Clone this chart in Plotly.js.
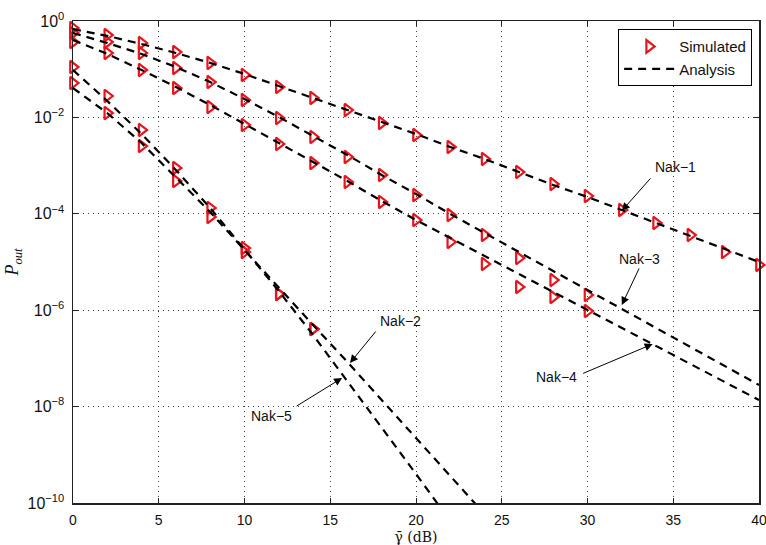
<!DOCTYPE html>
<html>
<head>
<meta charset="utf-8">
<script src="https://cdn.plot.ly/plotly-3.0.1.min.js"></script>
<style>html,body{margin:0;padding:0;background:#fff;}#chart{width:766px;height:545px;}</style>
</head>
<body>
<div id="chart"></div>
<script>
// SNR grid (dB)
const snrDB = [0,2,4,6,8,10,12,14,16,18,20,22,24,26,28,30,32,34,36,38,40];

// Nak-1
const nak1Sim = [0.716,0.512,0.350,0.227,0.135,0.0759,0.0428,0.0253,0.0142,7.66e-3,4.31e-3,2.43e-3,1.37e-3,7.36e-4,4.15e-4,2.34e-4,1.20e-4,6.44e-5,3.63e-5,1.61e-5,8.67e-6];
const nak1Ana = [0.68,0.49,0.333,0.217,0.135,0.0795,0.0447,0.0253,0.0142,8.03e-3,4.53e-3,2.43e-3,1.37e-3,7.36e-4,3.96e-4,2.23e-4,1.20e-4,6.44e-5,3.46e-5,1.86e-5,1.0e-5];
// Nak-3
const nak3Sim = [0.564,0.367,0.217,0.106,0.0542,0.0230,9.72e-3,3.92e-3,1.51e-3,6.38e-4,2.45e-4,9.44e-5,3.63e-5,1.21e-5,4.23e-6,2.07e-6];
const nak3Ana = [0.564,0.350,0.207,0.111,0.0542,0.0241,0.0102,4.11e-3,1.66e-3,6.38e-4,2.58e-4,9.91e-5,4.0e-5,1.61e-5,6.5e-6,2.62e-6,1.06e-6,4.27e-7,1.72e-7,6.95e-8,2.81e-8];
// Nak-4
const nak4Sim = [0.367,0.217,0.0962,0.0407,0.0164,6.95e-3,2.81e-3,1.13e-3,4.57e-4,1.76e-4,7.43e-5,2.60e-5,9.09e-6,3.03e-6,1.88e-6,9.62e-7];
const nak4Ana = [0.403,0.207,0.0962,0.0428,0.0181,7.29e-3,2.94e-3,1.19e-3,4.79e-4,1.84e-4,7.43e-5,3.15e-5,1.33e-5,5.64e-6,2.39e-6,1.01e-6,4.27e-7,1.81e-7,7.65e-8,3.24e-8,1.37e-8];
// Nak-2
const nak2Sim = [0.0517,0.0123,2.55e-3,4.79e-4,8.59e-5,1.61e-5,2.17e-6,4.07e-7];
const nak2Ana = [0.0407,0.0123,2.94e-3,5.80e-4,1.09e-4,1.77e-5,2.89e-6,4.93e-7,8.41e-8,1.37e-8,2.23e-9,3.63e-10,5.9e-11];
// Nak-5
const nak5Sim = [0.111,0.0278,5.48e-3,8.92e-4,1.32e-4,1.95e-5,2.17e-6,4.07e-7];
const nak5Ana = [0.0962,0.0219,4.53e-3,8.10e-4,1.32e-4,1.86e-5,2.50e-6,3.06e-7,3.40e-8,3.60e-9,4.0e-10,4.2e-11];

const yTickVals = [1,1e-2,1e-4,1e-6,1e-8,1e-10];
const yTickText = ['10<sup>0</sup>','10<sup>\u22122</sup>','10<sup>\u22124</sup>','10<sup>\u22126</sup>','10<sup>\u22128</sup>','10<sup>\u221210</sup>'];
const xTickVals = [0,5,10,15,20,25,30,35,40];

const simSets = [nak1Sim, nak3Sim, nak4Sim, nak2Sim, nak5Sim];
const anaSets = [nak1Ana, nak3Ana, nak4Ana, nak2Ana, nak5Ana];

const traces = [];
simSets.forEach((s, i) => {
  traces.push({
    x: snrDB.slice(0, s.length), y: s, type: 'scatter', mode: 'markers',
    name: 'Simulated', showlegend: i === 0, legendrank: 1, cliponaxis: false,
    marker: {symbol: 'triangle-right-open', size: 11, color: '#e8141b', line: {width: 2.2, color: '#e8141b'}}
  });
});
anaSets.forEach((s, i) => {
  traces.push({
    x: snrDB.slice(0, s.length), y: s, type: 'scatter', mode: 'lines',
    name: 'Analysis', showlegend: i === 0, legendrank: 2,
    line: {color: '#000', width: 2.2, dash: '8px,6px'}
  });
});

const L = Math.log10;
const labelFont = {family: 'Liberation Sans, Arial, sans-serif', size: 14, color: '#111'};
function arrow(x, y, ax, ay) {
  return {x: x, y: L(y), xref: 'x', yref: 'y', text: '', showarrow: true, ax: ax, ay: ay,
          arrowhead: 2, arrowsize: 1.6, arrowwidth: 1, arrowcolor: '#000', standoff: 0, startstandoff: 0};
}
function label(t, x, ly) {
  return {x: x, y: ly, xref: 'x', yref: 'y', text: t, showarrow: false, font: labelFont};
}

const layout = {
  width: 766, height: 545,
  margin: {l: 73, r: 7, t: 21, b: 42},
  paper_bgcolor: '#fff', plot_bgcolor: '#fff',
  font: {family: 'Liberation Sans, Arial, sans-serif', size: 14, color: '#111'},
  xaxis: {
    range: [0, 40], tickvals: xTickVals, ticks: 'inside', ticklen: 5, tickcolor: '#222',
    showline: true, linecolor: '#222', linewidth: 1.5, mirror: 'ticks',
    showgrid: true, gridcolor: '#444', griddash: '1px,4px', gridwidth: 1, zeroline: false,
    tickfont: {size: 14}, ticklabelstandoff: 4, ticklabeloverflow: 'allow',
    title: {text: '\u03b3\u0304 (dB)', font: {family: 'DejaVu Serif, Liberation Serif, serif', size: 14}, standoff: 6}
  },
  yaxis: {
    type: 'log', range: [-10, 0], tickvals: yTickVals, ticktext: yTickText,
    ticks: 'inside', ticklen: 5, tickcolor: '#222',
    showline: true, linecolor: '#222', linewidth: 1.5, mirror: 'ticks',
    showgrid: true, gridcolor: '#444', griddash: '1px,4px', gridwidth: 1, zeroline: false,
    tickfont: {size: 16}, ticklabelstandoff: 4,
    title: {text: '<i>P</i><sub><i>out</i></sub>', font: {family: 'Liberation Serif, DejaVu Serif, serif', size: 18}, standoff: 4}
  },
  legend: {
    x: 0.99, y: 0.983, xanchor: 'right', yanchor: 'top',
    bgcolor: '#fff', bordercolor: '#000', borderwidth: 1,
    font: {size: 15}, tracegroupgap: 0, itemwidth: 50
  },
  annotations: [
    arrow(32.0, 1.15e-4, 30, -34), label('Nak\u22121', 35.16, -3.03),
    arrow(32.0, 1.28e-6, 18, -38), label('Nak\u22123', 33.06, -4.94),
    arrow(33.8, 1.99e-7, -71, 30), label('Nak\u22124', 28.22, -7.39),
    arrow(16.15, 8.03e-8, 27, -33), label('Nak\u22122', 19.07, -6.22),
    arrow(15.69, 3.92e-8, -47, 29), label('Nak\u22125', 11.55, -8.195)
  ],
  showlegend: true
};

Plotly.newPlot('chart', traces, layout, {displayModeBar: false, staticPlot: true});
</script>
</body>
</html>
